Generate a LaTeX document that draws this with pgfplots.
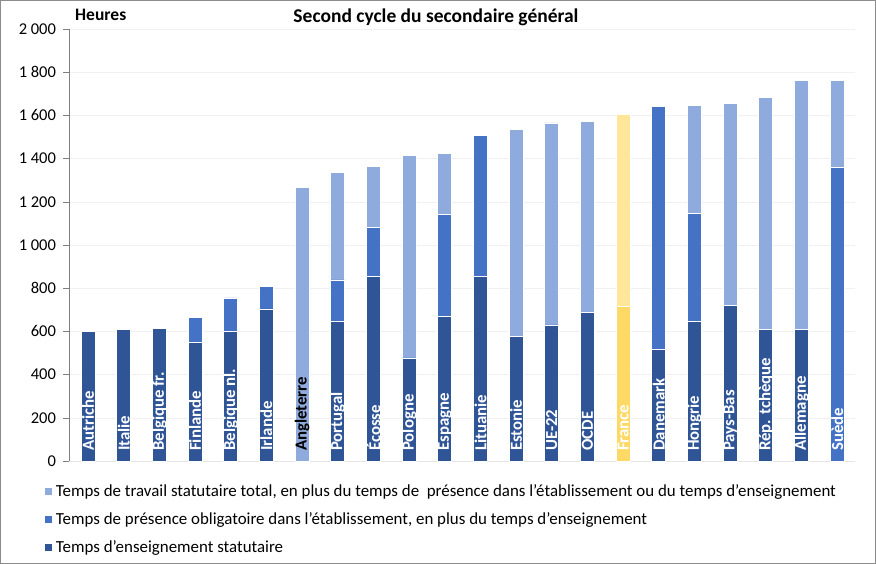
\documentclass[border=0pt]{standalone}
\usepackage{fontspec}
\setmainfont{Carlito}
\usepackage{pgfplots}
\usepackage{pgfplotstable}
\pgfplotsset{compat=1.18}

\definecolor{dk}{HTML}{2F5597}
\definecolor{md}{HTML}{4472C4}
\definecolor{lt}{HTML}{8FAADC}
\definecolor{ydk}{HTML}{FFD966}
\definecolor{ylt}{HTML}{FFE699}

\tikzset{lbl/.style={rotate=90, anchor=west, text=white, inner xsep=10pt, inner ysep=0pt,
        font=\bfseries\fontsize{16.8}{16.8}\selectfont}}

% T = enseignement, P = presence, R = reste du temps de travail, FT/FR = France
\pgfplotstableread{
x  T    P    R    FT   FR
0  601  0    0    0    0
1  607  0    0    0    0
2  615  0    0    0    0
3  547  118  0    0    0
4  600  155  0    0    0
5  704  106  0    0    0
6  0    0    1265 0    0
7  648  190  499  0    0
8  855  225  285  0    0
9  477  0    938  0    0
10 668  472  285  0    0
11 855  653  0    0    0
12 575  0    960  0    0
13 630  0    935  0    0
14 686  0    886  0    0
15 0    0    0    718  887
16 515  1125 0    0    0
17 645  500  502  0    0
18 720  0    936  0    0
19 608  0    1076 0    0
20 608  0    1152 0    0
21 0    1360 400  0    0
}\data

\begin{document}
\begin{tikzpicture}[x=1pt,y=1pt]
\useasboundingbox (0,0) rectangle (876,564);
\draw[black!45, line width=1pt] (0.5,0.5) rectangle (875.5,563.5);
\node[font=\bfseries\fontsize{19.5}{19.5}\selectfont] at (436,547) {Second cycle du secondaire général};
\node[anchor=west, inner sep=0pt, font=\bfseries\fontsize{17.5}{17.5}\selectfont] at (75,549) {Heures};
\begin{axis}[
    at={(69.5pt,103pt)}, anchor=south west,
    scale only axis, width=785.5pt, height=432pt,
    clip=false,
    ybar stacked, bar width=14pt,
    xmin=-0.52, xmax=21.5,
    ymin=0, ymax=2000,
    ytick={0,200,...,2000},
    xtick=\empty,
    axis lines*=left,
    x axis line style={draw=black!10},
    y axis line style={draw=black!50},
    ytick style={draw=black!50},
    tick align=outside, major tick length=6pt,
    ymajorgrids, grid style={draw=black!6},
    yticklabel style={font=\fontsize{16.5}{16.5}\selectfont, text=black, xshift=-4pt},
    /pgf/number format/assume math mode=true,
    /pgf/number format/1000 sep={\ },
    reverse legend,
    legend cell align=left,
    legend style={at={(-0.032,-0.05)}, anchor=north west, draw=none, fill=none,
        font=\fontsize{16.9}{16.9}\selectfont, row sep=10.4pt, inner sep=0pt},
    legend image code/.code={\path[#1, draw=none] (0pt,-3.5pt) rectangle (7pt,3.5pt); \path (9pt,0pt);},
]
\addplot[fill=dk, draw=white, line width=0.8pt] table[x=x, y=T] {\data};
\addlegendentry{Temps d'enseignement statutaire}
\addplot[fill=md, draw=white, line width=0.8pt] table[x=x, y=P] {\data};
\addlegendentry{Temps de présence obligatoire dans l'établissement, en plus du temps d'enseignement}
\addplot[fill=lt, draw=white, line width=0.8pt] table[x=x, y=R] {\data};
\addlegendentry{Temps de travail statutaire total, en plus du temps de \ présence dans l'établissement ou du temps d'enseignement}
\addplot[fill=ydk, draw=white, line width=0.8pt, forget plot] table[x=x, y=FT] {\data};
\addplot[fill=ylt, draw=white, line width=0.8pt, forget plot] table[x=x, y=FR] {\data};

\coordinate (c0) at (axis cs:0,0);
\coordinate (c1) at (axis cs:1,0);
\coordinate (c2) at (axis cs:2,0);
\coordinate (c3) at (axis cs:3,0);
\coordinate (c4) at (axis cs:4,0);
\coordinate (c5) at (axis cs:5,0);
\coordinate (c6) at (axis cs:6,0);
\coordinate (c7) at (axis cs:7,0);
\coordinate (c8) at (axis cs:8,0);
\coordinate (c9) at (axis cs:9,0);
\coordinate (c10) at (axis cs:10,0);
\coordinate (c11) at (axis cs:11,0);
\coordinate (c12) at (axis cs:12,0);
\coordinate (c13) at (axis cs:13,0);
\coordinate (c14) at (axis cs:14,0);
\coordinate (c15) at (axis cs:15,0);
\coordinate (c16) at (axis cs:16,0);
\coordinate (c17) at (axis cs:17,0);
\coordinate (c18) at (axis cs:18,0);
\coordinate (c19) at (axis cs:19,0);
\coordinate (c20) at (axis cs:20,0);
\coordinate (c21) at (axis cs:21,0);
\end{axis}
\node[lbl] at (c0) {Autriche};
\node[lbl] at (c1) {Italie};
\node[lbl] at (c2) {Belgique fr.};
\node[lbl] at (c3) {Finlande};
\node[lbl] at (c4) {Belgique nl.};
\node[lbl] at (c5) {Irlande};
\node[lbl, text=black] at (c6) {Angleterre};
\node[lbl] at (c7) {Portugal};
\node[lbl] at (c8) {Écosse};
\node[lbl] at (c9) {Pologne};
\node[lbl] at (c10) {Espagne};
\node[lbl] at (c11) {Lituanie};
\node[lbl] at (c12) {Estonie};
\node[lbl] at (c13) {UE-22};
\node[lbl] at (c14) {OCDE};
\node[lbl] at (c15) {France};
\node[lbl] at (c16) {Danemark};
\node[lbl] at (c17) {Hongrie};
\node[lbl] at (c18) {Pays-Bas};
\node[lbl] at (c19) {Rép. tchèque};
\node[lbl] at (c20) {Allemagne};
\node[lbl] at (c21) {Suède};
\end{tikzpicture}
\end{document}
